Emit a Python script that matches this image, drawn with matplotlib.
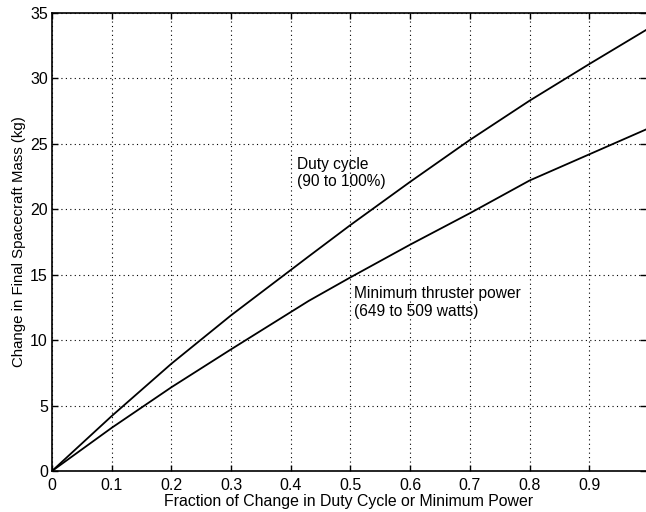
import matplotlib
matplotlib.use("Agg")
import matplotlib.pyplot as plt

x_vals = [0.0, 0.1, 0.2, 0.3, 0.43, 0.5, 0.6, 0.7, 0.8, 0.9, 0.995]
duty_cycle = [0.0, 4.2, 8.2, 11.9, 16.4, 18.8, 22.1, 25.3, 28.3, 31.1, 33.7]
min_power = [0.0, 3.3, 6.4, 9.3, 13.0, 14.8, 17.3, 19.7, 22.2, 24.2, 26.1]

x_ticks = [0, 0.1, 0.2, 0.3, 0.4, 0.5, 0.6, 0.7, 0.8, 0.9]
x_tick_labels = ["0", "0.1", "0.2", "0.3", "0.4", "0.5", "0.6", "0.7", "0.8", "0.9"]
y_ticks = [0, 5, 10, 15, 20, 25, 30, 35]

plt.rcParams['font.family'] = ['Liberation Sans', 'DejaVu Sans']
fig = plt.figure(figsize=(6.46, 5.12), dpi=100)
ax = fig.add_axes([52/646, 41/512, 1 - 52/646, (471 - 13)/512])

ax.plot(x_vals, duty_cycle, color='black', lw=1.3)
ax.plot(x_vals, min_power, color='black', lw=1.3)

ax.set_xlim(0, 0.995)
ax.set_ylim(0, 35)
ax.set_xticks(x_ticks)
ax.set_xticklabels(x_tick_labels)
ax.set_yticks(y_ticks)
ax.grid(True, linestyle=(0, (1, 3)), color='black', lw=0.8)
ax.tick_params(direction='in', top=True, right=True, labelsize=11.5, length=4, width=1)
ax.tick_params(axis='x', pad=5)
ax.tick_params(axis='y', pad=3)
ax.spines['right'].set_visible(False)
for s in ['left', 'bottom', 'top']:
    ax.spines[s].set_linewidth(1.2)

ax.set_xlabel("Fraction of Change in Duty Cycle or Minimum Power", fontsize=11.4, labelpad=1)
ax.set_ylabel("Change in Final Spacecraft Mass (kg)", fontsize=10.8, labelpad=3)

ax.text(0.41, 24.0, "Duty cycle\n(90 to 100%)", fontsize=11.2, va='top', ha='left', linespacing=1.2)
ax.text(0.506, 14.1, "Minimum thruster power\n(649 to 509 watts)", fontsize=11.2, va='top', ha='left', linespacing=1.2)

fig.savefig("out.png", dpi=100)
